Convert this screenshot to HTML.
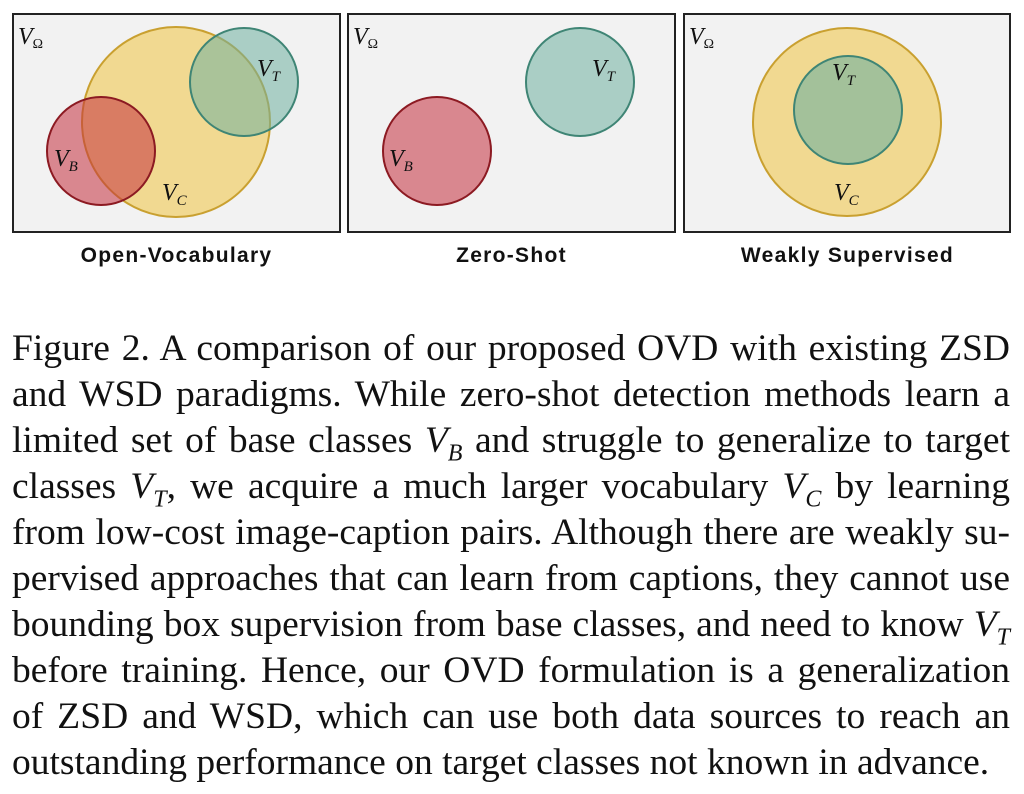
<!DOCTYPE html>
<html><head><style>
body{margin:0;width:1024px;height:794px;background:#fff;overflow:hidden;position:relative;font-family:"Liberation Serif",serif}
.lab{position:absolute;top:244px;font:bold 21px "Liberation Sans",sans-serif;letter-spacing:1.3px;color:#111;text-align:center;width:327px}
.cap{position:absolute;left:12px;width:998px;font-size:37.5px;color:#111}
.cap div{height:46px;line-height:46px;text-align:justify;text-align-last:justify;white-space:nowrap}
.cap div.last{text-align-last:left}
.m{font-style:italic;font-family:"Liberation Serif",serif}
</style></head><body>
<svg width="1024" height="240" style="position:absolute;left:0;top:0" font-family="Liberation Serif" font-style="italic">
<g stroke="#222" stroke-width="2" fill="#f2f2f2">
<rect x="13" y="14" width="327" height="218"/>
<rect x="348" y="14" width="327" height="218"/>
<rect x="684" y="14" width="326" height="218"/>
</g>
<g stroke-width="2" fill-opacity="0.55">
<ellipse cx="176" cy="122" rx="94" ry="95" fill="#f0c850" stroke="#c9a030" fill-opacity="0.6"/>
<circle cx="244" cy="82" r="54" fill="#6fb0a0" stroke="#3f8575"/>
<circle cx="101" cy="151" r="54" fill="#c5303e" stroke="#8c1a22"/>
<circle cx="580" cy="82" r="54" fill="#6fb0a0" stroke="#3f8575"/>
<circle cx="437" cy="151" r="54" fill="#c5303e" stroke="#8c1a22"/>
<circle cx="847" cy="122" r="94" fill="#f0c850" stroke="#c9a030" fill-opacity="0.6"/>
<circle cx="848" cy="110" r="54" fill="#6fb0a0" stroke="#3f8575" fill-opacity="0.6"/>
</g>
<g font-size="24" fill="#111">
<text x="18" y="44">V<tspan font-size="14" font-style="normal" dy="4">Ω</tspan></text>
<text x="353" y="44">V<tspan font-size="14" font-style="normal" dy="4">Ω</tspan></text>
<text x="689" y="44">V<tspan font-size="14" font-style="normal" dy="4">Ω</tspan></text>
<text x="257" y="76">V<tspan font-size="15" dy="5">T</tspan></text>
<text x="592" y="76">V<tspan font-size="15" dy="5">T</tspan></text>
<text x="832" y="80">V<tspan font-size="15" dy="5">T</tspan></text>
<text x="54" y="166">V<tspan font-size="15" dy="5">B</tspan></text>
<text x="389" y="166">V<tspan font-size="15" dy="5">B</tspan></text>
<text x="162" y="200">V<tspan font-size="15" dy="5">C</tspan></text>
<text x="834" y="200">V<tspan font-size="15" dy="5">C</tspan></text>
</g>
</svg>
<div class="lab" style="left:13px">Open-Vocabulary</div>
<div class="lab" style="left:348px">Zero-Shot</div>
<div class="lab" style="left:684px">Weakly Supervised</div>
<div class="cap" style="top:326px">
<div>Figure 2. A comparison of our proposed OVD with existing ZSD</div>
<div>and WSD paradigms. While zero-shot detection methods learn a</div>
<div>limited set of base classes <span class="m">V<sub style="font-size:24px">B</sub></span> and struggle to generalize to target</div>
<div>classes <span class="m">V<sub style="font-size:24px">T</sub></span>, we acquire a much larger vocabulary <span class="m">V<sub style="font-size:24px">C</sub></span> by learning</div>
<div>from low-cost image-caption pairs. Although there are weakly su-</div>
<div>pervised approaches that can learn from captions, they cannot use</div>
<div>bounding box supervision from base classes, and need to know <span class="m">V<sub style="font-size:24px">T</sub></span></div>
<div>before training. Hence, our OVD formulation is a generalization</div>
<div>of ZSD and WSD, which can use both data sources to reach an</div>
<div class="last">outstanding performance on target classes not known in advance.</div>
</div>
</body></html>
